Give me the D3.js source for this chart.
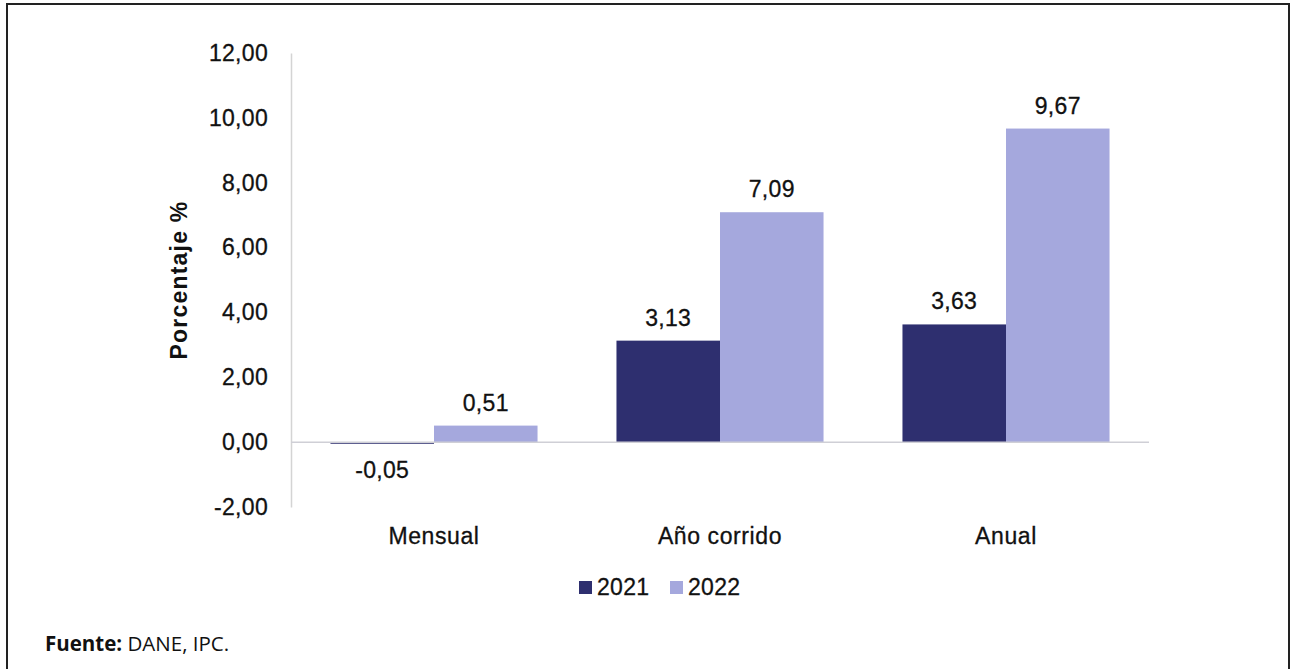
<!DOCTYPE html>
<html>
<head>
<meta charset="utf-8">
<script src="https://cdn.jsdelivr.net/npm/d3@7"></script>
<style>
  body { margin: 0; background: #fff; }
  text { font-family: "Liberation Sans", Arial, sans-serif; fill: #111; }
</style>
</head>
<body>
<div id="chart"></div>
<script>
// data
var categories = ["Mensual", "Año corrido", "Anual"];
var seriesNames = ["2021", "2022"];
var values2021 = [-0.05, 3.13, 3.63];
var values2022 = [0.51, 7.09, 9.67];
var yTicks = [-2, 0, 2, 4, 6, 8, 10, 12];
var colors = ["#2e2f6f", "#a5a8dd"];

var width = 1295, height = 669;
var plot = {left: 291, right: 1149, top: 53, bottom: 507};

// comma decimals, plain hyphen for negatives
var fmt = function(v) { return d3.format(".2f")(v).replace(".", ",").replace("\u2212", "-"); };

var svg = d3.select("#chart")
    .append("svg")
    .attr("width", width)
    .attr("height", height);

// frame
svg.append("rect")
    .attr("x", 7)
    .attr("y", 4)
    .attr("width", 1282)
    .attr("height", 680)
    .attr("fill", "none")
    .attr("stroke", "#222")
    .attr("stroke-width", 2);

var y = d3.scaleLinear().domain([-2, 12]).range([plot.bottom, plot.top]);

var x0 = d3.scaleBand()
    .domain(categories)
    .range([plot.left, plot.right])
    .paddingInner(0.276)
    .paddingOuter(0.138);

var x1 = d3.scaleBand()
    .domain(seriesNames)
    .range([0, x0.bandwidth()]);

// y axis
var yAxis = svg.append("g")
    .attr("transform", "translate(" + plot.left + ",0)")
    .call(d3.axisLeft(y).tickValues(yTicks).tickSize(0).tickPadding(23).tickFormat(fmt));
yAxis.select(".domain").attr("stroke", "#d4d4d4").attr("stroke-width", 1.5);
yAxis.selectAll("text")
    .attr("font-size", 23)
    .attr("letter-spacing", 0.3)
    .attr("fill", "#111")
    .attr("stroke", "#111")
    .attr("stroke-width", 0.3)
    .style("font-family", "'Liberation Sans', Arial, sans-serif");

svg.append("text")
    .attr("transform", "translate(187," + ((plot.top + plot.bottom) / 2) + ") rotate(-90)")
    .attr("text-anchor", "middle")
    .attr("font-size", 23)
    .attr("font-weight", "bold")
    .attr("letter-spacing", 1.2)
    .text("Porcentaje %");

// bars
var rows = categories.map(function(c, i) {
    return {cat: c, vals: [values2021[i], values2022[i]]};
});

var groups = svg.selectAll("g.cat")
    .data(rows)
    .enter()
    .append("g")
    .attr("class", "cat")
    .attr("transform", function(d) { return "translate(" + x0(d.cat) + ",0)"; });

groups.selectAll("rect")
    .data(function(d) { return d.vals.map(function(v, j) { return {s: seriesNames[j], v: v, j: j}; }); })
    .enter()
    .append("rect")
    .attr("x", function(d) { return x1(d.s); })
    .attr("y", function(d) { return y(Math.max(0, d.v)); })
    .attr("width", x1.bandwidth())
    .attr("height", function(d) { return Math.max(1.5, Math.abs(y(d.v) - y(0))); })
    .attr("fill", function(d) { return colors[d.j]; });

groups.selectAll("text.val")
    .data(function(d) { return d.vals.map(function(v, j) { return {s: seriesNames[j], v: v}; }); })
    .enter()
    .append("text")
    .attr("class", "val")
    .attr("x", function(d) { return x1(d.s) + x1.bandwidth() / 2; })
    .attr("y", function(d) { return d.v >= 0 ? y(d.v) - 15 : y(0) + 36; })
    .attr("text-anchor", "middle")
    .attr("font-size", 23)
    .attr("letter-spacing", 0.3)
    .attr("stroke", "#111")
    .attr("stroke-width", 0.3)
    .text(function(d) { return fmt(d.v); });

// zero line
svg.append("line")
    .attr("x1", plot.left)
    .attr("x2", plot.right)
    .attr("y1", y(0))
    .attr("y2", y(0))
    .attr("stroke", "#cfcfd6")
    .attr("stroke-width", 1.5);

// category labels
svg.selectAll("text.cat")
    .data(categories)
    .enter()
    .append("text")
    .attr("class", "cat")
    .attr("x", function(d) { return x0(d) + x0.bandwidth() / 2; })
    .attr("y", 544)
    .attr("text-anchor", "middle")
    .attr("font-size", 23)
    .attr("letter-spacing", 0.6)
    .attr("stroke", "#111")
    .attr("stroke-width", 0.3)
    .text(function(d) { return d; });

// legend
var legend = svg.selectAll("g.legend")
    .data(seriesNames)
    .enter()
    .append("g")
    .attr("class", "legend")
    .attr("transform", function(d, i) { return "translate(" + (579 + i * 91) + ",581)"; });

legend.append("rect")
    .attr("width", 13)
    .attr("height", 13)
    .attr("fill", function(d, i) { return colors[i]; });

legend.append("text")
    .attr("x", 18)
    .attr("y", 14)
    .attr("font-size", 23)
    .attr("letter-spacing", 0.3)
    .attr("stroke", "#111")
    .attr("stroke-width", 0.3)
    .text(function(d) { return d; });

// source
var src = svg.append("text")
    .attr("x", 45)
    .attr("y", 651)
    .attr("font-size", 20.5)
    .style("font-family", "'Open Sans', 'Noto Sans', sans-serif");
src.append("tspan").attr("font-weight", "bold").text("Fuente:");
src.append("tspan").text(" DANE, IPC.");
</script>
</body>
</html>
